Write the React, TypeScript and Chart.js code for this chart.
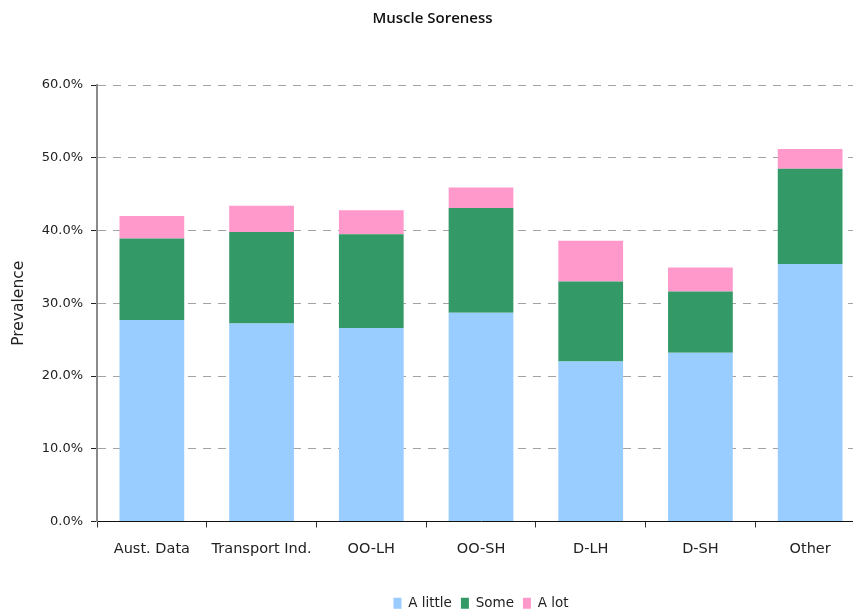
import React, { useEffect, useRef } from "react";
import { Chart, registerables } from "chart.js";

Chart.register(...registerables);

const categories = ["Aust. Data", "Transport Ind.", "OO-LH", "OO-SH", "D-LH", "D-SH", "Other"];
const aLittle = [27.7, 27.2, 26.6, 28.7, 22.0, 23.2, 35.4];
const some = [11.2, 12.6, 12.9, 14.4, 11.0, 8.4, 13.1];
const aLot = [3.1, 3.6, 3.3, 2.8, 5.6, 3.3, 2.7];
const yTicks = [0, 10, 20, 30, 40, 50, 60];

const FONT = "'DejaVu Sans', sans-serif";

export default function App() {
  const ref = useRef<HTMLCanvasElement | null>(null);

  useEffect(() => {
    if (!ref.current) return;
    const chart = new Chart(ref.current, {
      type: "bar",
      data: {
        labels: categories,
        datasets: [
          { label: "A little", data: aLittle, backgroundColor: "#99CCFF", borderWidth: 0 },
          { label: "Some", data: some, backgroundColor: "#339966", borderWidth: 0 },
          { label: "A lot", data: aLot, backgroundColor: "#FF99CC", borderWidth: 0 },
        ],
      },
      options: {
        responsive: false,
        animation: false,
        layout: { padding: 0 },
        datasets: { bar: { categoryPercentage: 1, barPercentage: 0.59 } },
        plugins: {
          tooltip: { enabled: false },
          title: {
            display: true,
            text: "Muscle Soreness",
            color: "#111",
            font: { family: "'Open Sans', sans-serif", size: 15, weight: "600" },
            padding: { top: 10, bottom: 57 },
          },
          legend: {
            position: "bottom",
            fullSize: false,
            labels: {
              boxWidth: 8,
              boxHeight: 11,
              padding: 9,
              color: "#222",
              font: { family: FONT, size: 13.5 },
            },
          },
        },
        scales: {
          x: {
            stacked: true,
            offset: true,
            afterFit: (s: any) => {
              s.height = 66;
            },
            grid: {
              display: true,
              offset: true,
              drawOnChartArea: false,
              tickLength: 6,
              tickColor: "#333",
            },
            border: { display: true, color: "#111", width: 1 },
            ticks: {
              padding: 13,
              color: "#222",
              font: { family: FONT, size: 14.5 },
              maxRotation: 0,
              autoSkip: false,
            },
          },
          y: {
            stacked: true,
            min: 0,
            max: 60,
            afterFit: (s: any) => {
              s.width = 97;
            },
            afterBuildTicks: (s: any) => {
              s.ticks = yTicks.map((v) => ({ value: v }));
            },
            grid: {
              color: "#a3a3a3",
              lineWidth: 1,
              tickLength: 6,
              tickColor: "#222",
              tickBorderDash: [],
            },
            border: { display: true, color: "#8a8a8a", width: 2, dash: [8, 7] },
            ticks: {
              padding: 8,
              color: "#222",
              font: { family: FONT, size: 13 },
              callback: (v: any) => Number(v).toFixed(1) + "%",
            },
            title: {
              display: true,
              text: "Prevalence",
              color: "#222",
              font: { family: FONT, size: 15.5 },
              padding: { top: 10, bottom: 0 },
            },
          },
        },
      },
    });
    return () => chart.destroy();
  }, []);

  return (
    <div
      style={{
        position: "fixed",
        left: 0,
        top: 0,
        width: 853,
        height: 610,
        overflow: "hidden",
        background: "#fff",
      }}
    >
      <canvas ref={ref} width={865} height={620} style={{ display: "block" }} />
    </div>
  );
}
